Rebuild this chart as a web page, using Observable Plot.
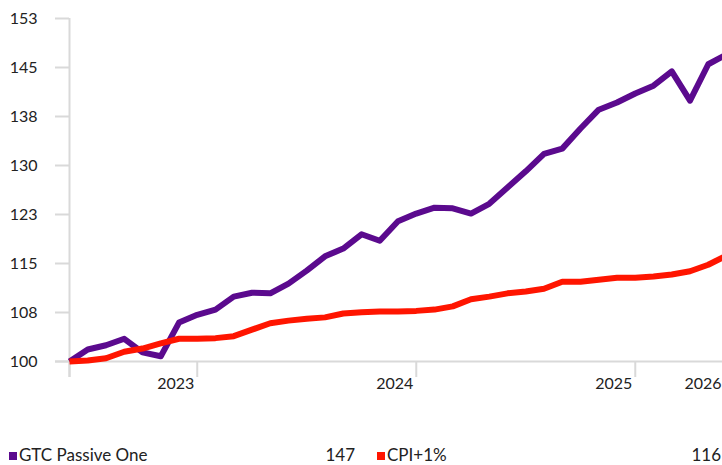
<!DOCTYPE html>
<html>
<head>
<meta charset="utf-8">
<script src="https://cdn.jsdelivr.net/npm/d3@7"></script>
<script src="https://cdn.jsdelivr.net/npm/@observablehq/plot@0.6"></script>
<style>
  html, body { margin: 0; padding: 0; background: #fff; }
  #wrap { position: relative; width: 722px; height: 465px; overflow: hidden; font-family: Lato, "Open Sans", sans-serif; color: #222; }
  #legend { position: absolute; left: 0; top: 440px; width: 722px; height: 25px; font-size: 17px; }
  .sw { position: absolute; width: 8px; height: 8px; top: 12px; }
  .lt { position: absolute; top: 5px; line-height: 20px; white-space: nowrap; }
</style>
</head>
<body>
<div id="wrap">
  <div id="chart"></div>
  <div id="legend"></div>
</div>
<script>
// Monthly observations
const months = [
  "2022-06","2022-07","2022-08","2022-09","2022-10","2022-11","2022-12",
  "2023-01","2023-02","2023-03","2023-04","2023-05","2023-06","2023-07","2023-08","2023-09","2023-10","2023-11","2023-12",
  "2024-01","2024-02","2024-03","2024-04","2024-05","2024-06","2024-07","2024-08","2024-09","2024-10","2024-11","2024-12",
  "2025-01","2025-02","2025-03","2025-04","2025-05","2025-06"
];
const gtcPassiveOne = [
  100, 101.85, 102.5, 103.5, 101.4, 100.8, 106.0,
  107.2, 108.0, 110.0, 110.6, 110.5, 112.0, 114.0, 116.2, 117.4, 119.6, 118.6, 121.6,
  122.8, 123.7, 123.6, 122.8, 124.3, 126.8, 129.3, 132.0, 132.8, 135.9, 138.8, 139.9,
  141.3, 142.5, 144.7, 140.2, 145.8, 147.3
];
const cpiPlus1 = [
  100, 100.15, 100.5, 101.5, 102.0, 102.8, 103.5,
  103.5, 103.6, 103.9, 104.9, 105.9, 106.3, 106.6, 106.8, 107.4, 107.6, 107.7, 107.7,
  107.8, 108.0, 108.5, 109.6, 110.0, 110.5, 110.8, 111.2, 112.3, 112.3, 112.6, 112.9,
  112.9, 113.1, 113.4, 113.9, 114.9, 116.3
];
const seriesNames = ["GTC Passive One", "CPI+1%"];
const seriesColors = ["#5b0a8e", "#ff1500"];
const legendValues = ["147", "116"];

// Axis ticks
const yTickValues = [100, 107.55, 115.1, 122.65, 130.2, 137.75, 145.3, 152.85];
const yTickLabels = ["100", "108", "115", "123", "130", "138", "145", "153"];
const xTickMonths = ["2022-06", "2023-01", "2024-01", "2025-01"];
const xLabelMonths = ["2023-01", "2024-01", "2025-01"];
const xLabels = ["2023", "2024", "2025"];
const xLastLabel = "2026";

const idx = m => months.indexOf(m);
const rows = [];
months.forEach((m, i) => {
  rows.push({i, month: m, series: seriesNames[0], value: gtcPassiveOne[i]});
  rows.push({i, month: m, series: seriesNames[1], value: cpiPlus1[i]});
});
const xTicks = xTickMonths.map(idx);
const xLabelRows = xLabelMonths.map((m, k) => ({i: idx(m), label: xLabels[k]}));
const lastRow = [{i: months.length - 1, label: xLastLabel}];

const grey = "#d9d9d9";
const chart = Plot.plot({
  width: 722,
  height: 440,
  marginLeft: 69,
  marginRight: 0,
  marginTop: 18,
  marginBottom: 79,
  style: {fontFamily: "Lato, 'Open Sans', sans-serif", fontSize: "16px", color: "#222", background: "#fff", overflow: "hidden"},
  x: {type: "linear", domain: [0, 35.78], axis: null},
  y: {type: "linear", domain: [100, 152.85], axis: null},
  color: {domain: seriesNames, range: seriesColors},
  marks: [
    Plot.ruleY([100], {stroke: grey, strokeWidth: 2, insetLeft: -14}),
    Plot.ruleX([0], {stroke: grey, strokeWidth: 2, insetBottom: -16}),
    Plot.ruleX(xTicks, {x: d => d, y1: 100, y2: 100, insetBottom: -16, stroke: grey, strokeWidth: 2}),
    Plot.axisY({ticks: yTickValues, tickFormat: (d, i) => yTickLabels[i], tickSize: 14, tickPadding: 18, label: null,
      stroke: grey, strokeWidth: 2, fill: "#222", fontSize: 16}),
    Plot.text(xLabelRows, {x: "i", y: () => 100, text: "label", textAnchor: "end", dx: -3, dy: 22, fill: "#222", fontSize: 16}),
    Plot.text(lastRow, {x: "i", y: () => 100, text: "label", textAnchor: "end", dx: -5, dy: 22, fill: "#222", fontSize: 16}),
    Plot.line(rows, {x: "i", y: "value", z: "series", stroke: "series", strokeWidth: 6, strokeLinejoin: "round", strokeLinecap: "butt"})
  ]
});
document.getElementById("chart").appendChild(chart);

// Legend
const legend = document.getElementById("legend");
const legendLayout = [{sw: 9, text: 19, val: 355}, {sw: 377, text: 387, val: 721}];
seriesNames.forEach((name, k) => {
  const L = legendLayout[k];
  const sw = document.createElement("div");
  sw.className = "sw"; sw.style.left = L.sw + "px"; sw.style.background = seriesColors[k];
  legend.appendChild(sw);
  const t = document.createElement("div");
  t.className = "lt"; t.style.left = L.text + "px"; t.textContent = name;
  legend.appendChild(t);
  const v = document.createElement("div");
  v.className = "lt"; v.style.right = (722 - L.val) + "px"; v.textContent = legendValues[k];
  legend.appendChild(v);
});
</script>
</body>
</html>
